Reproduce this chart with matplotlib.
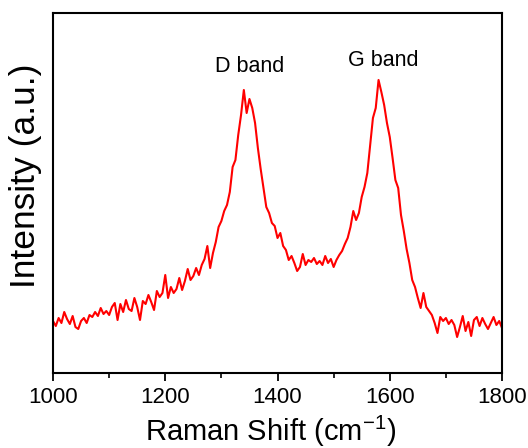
import numpy as np
import matplotlib
matplotlib.use('Agg')
import matplotlib.pyplot as plt
from matplotlib.ticker import MultipleLocator

plt.rcParams['font.family'] = ['Liberation Sans', 'DejaVu Sans']
plt.rcParams['mathtext.fontset'] = 'custom'
plt.rcParams['mathtext.rm'] = 'Liberation Sans'

# Raman shift (cm-1), 5 cm-1 steps
shift = np.arange(1000, 1801, 5)

# intensity (a.u.)
intensity = [
    52, 47, 55, 50, 61, 54, 49, 57, 46, 44,
    52, 55, 50, 58, 56, 61, 57, 65, 59, 62,
    58, 66, 70, 53, 69, 61, 73, 64, 62, 75,
    66, 53, 72, 69, 78, 71, 63, 82, 76, 80,
    98, 75, 86, 80, 84, 95, 83, 92, 104, 93,
    97, 105, 98, 108, 114, 127, 105, 120, 131, 146,
    152, 162, 168, 181, 206, 213, 238, 258, 283, 260,
    274, 265, 250, 225, 204, 185, 166, 160, 150, 147,
    135, 140, 127, 123, 113, 117, 110, 102, 106, 119,
    108, 113, 111, 115, 109, 112, 108, 117, 110, 114,
    106, 113, 118, 122, 129, 135, 146, 162, 153, 160,
    176, 186, 200, 228, 255, 265, 293, 281, 268, 250,
    236, 215, 193, 185, 158, 142, 124, 110, 93, 86,
    75, 65, 80, 66, 62, 58, 50, 40, 56, 52,
    55, 49, 53, 48, 36, 46, 57, 42, 51, 37,
    53, 56, 47, 55, 49, 44, 50, 56, 48, 52,
    45,
]

band_names = ['D band', 'G band']
band_pos = [1351, 1589]
band_height = [306, 312]

fig = plt.figure(figsize=(5.28, 4.48), dpi=100)
ax = fig.add_axes([0.1004, 0.1674, 0.8504, 0.8036])

ax.plot(shift, intensity, color='#ff0000', lw=1.5)

for name, xp, yp in zip(band_names, band_pos, band_height):
    ax.text(xp, yp, name, ha='center', va='center', fontsize=15.5)

ax.set_xlim(1000, 1800)
ax.set_ylim(0, 360)
ax.xaxis.set_major_locator(MultipleLocator(200))
ax.xaxis.set_minor_locator(MultipleLocator(100))
ax.tick_params(axis='x', which='major', direction='out', length=6, width=1.3, labelsize=16, pad=4)
ax.tick_params(axis='x', which='minor', direction='out', length=3.5, width=1.2)
ax.set_yticks([])
for s in ax.spines.values():
    s.set_linewidth(1.5)

ax.set_xlabel('Raman Shift (cm$^{-1}$)', fontsize=21)
ax.xaxis.set_label_coords(0.485, -0.112)
ax.set_ylabel('Intensity (a.u.)', fontsize=25.5)
ax.yaxis.set_label_coords(-0.025, 0.547)

fig.savefig('out.png', dpi=100)
